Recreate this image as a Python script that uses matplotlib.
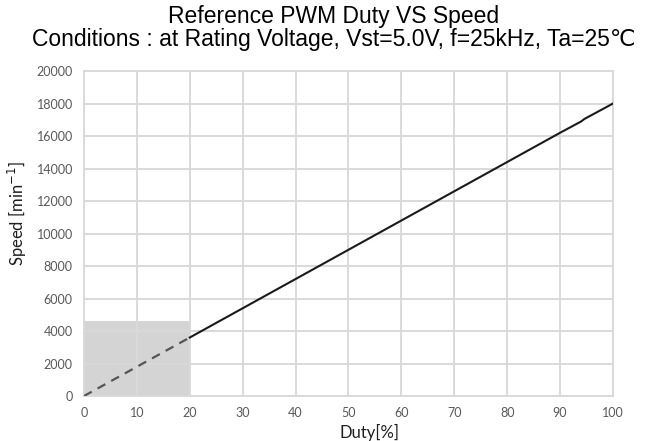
import matplotlib.pyplot as plt

# Duty [%] vs speed [min^-1]
duty_est = [0, 20]
speed_est = [0, 3600]
duty = [20, 30, 40, 50, 60, 70, 80, 90, 94, 94.6, 100]
speed = [3600, 5400, 7200, 9000, 10800, 12600, 14400, 16200, 16900, 17050, 18000]

# region below 20% duty (shaded)
shade_duty = [0, 20]
shade_speed = 4600

plt.rcParams['font.family'] = ['Lato', 'DejaVu Sans']

fig = plt.figure(figsize=(6.68, 4.41), dpi=100)
ax = fig.add_axes([0.1257, 0.102, 0.7920, 0.737])

ax.fill_between(shade_duty, 0, shade_speed, color='#d4d4d4', zorder=0.5, linewidth=0)
ax.plot(duty_est, speed_est, color='#555555', linestyle=(0, (4, 3)), linewidth=1.6, zorder=3)
ax.plot(duty, speed, color='#1a1a1a', linewidth=1.5, zorder=3)

ax.set_xlim(0, 100)
ax.set_ylim(0, 20000)
ax.set_xticks(range(0, 101, 10))
ax.set_yticks(range(0, 20001, 2000))
ax.grid(True, color='#d9d9d9', linewidth=1.4, zorder=0)
ax.set_axisbelow(True)
for s in ax.spines.values():
    s.set_color('#d9d9d9')
    s.set_linewidth(1.4)
ax.tick_params(length=0, labelsize=9, labelcolor='#595959')
ax.tick_params(axis='y', pad=8)
ax.tick_params(axis='x', pad=8)

ax.set_xlabel('Duty[%]', fontsize=12, color='#1f1f1f')
ax.xaxis.set_label_coords(0.54, -0.085)
ax.set_ylabel('Speed [min$^{-1}$]', fontsize=12, color='#1f1f1f')
ax.yaxis.set_label_coords(-0.104, 0.56)

fig.suptitle('Reference PWM Duty VS Speed\nConditions : at Rating Voltage, Vst=5.0V, f=25kHz, Ta=25\u2103',
             fontsize=16.5, y=0.988, linespacing=0.98,
             family=['Liberation Sans', 'DejaVu Sans'])

fig.savefig('out.png', dpi=100)
